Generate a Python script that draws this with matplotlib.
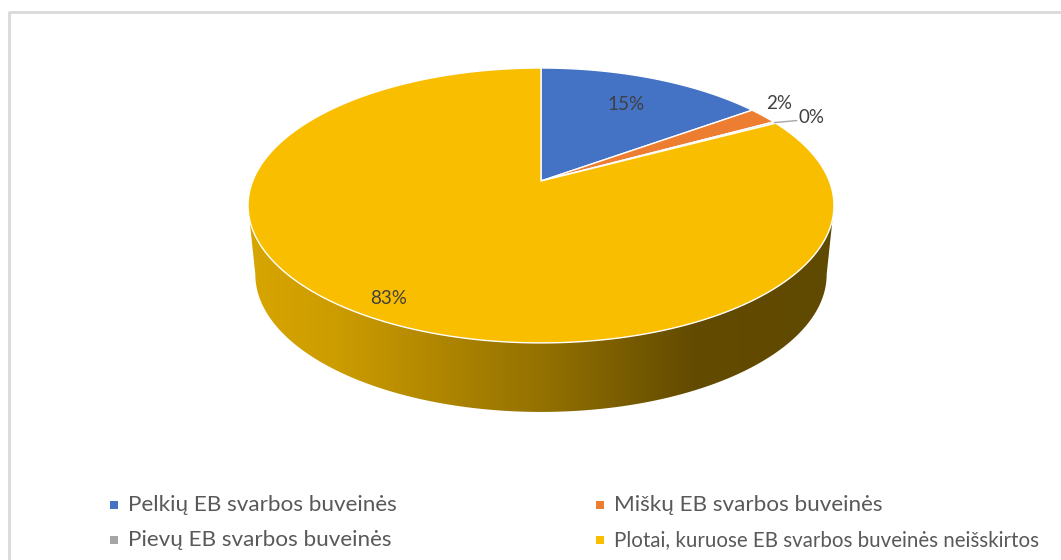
import numpy as np
import matplotlib.pyplot as plt
from matplotlib.patches import Polygon, Rectangle
from matplotlib.colors import LinearSegmentedColormap

# habitat shares, % of area
categories = ['Pelkių EB svarbos buveinės', 'Miškų EB svarbos buveinės',
              'Pievų EB svarbos buveinės',
              'Plotai, kuruose EB svarbos buveinės neišskirtos']
shares = [15.0, 2.0, 0.2, 82.8]
pct_labels = ['15%', '2%', '0%', '83%']
colors = ['#4472C4', '#ED7D31', '#A5A5A5', '#FABE00']

W, H = 1061, 560
FONT = ['Lato', 'DejaVu Sans']

# projected disc: apex, radii and perspective factor
CX, CY = 541, 181
A, B, P = 288.3, 133.1, 0.178
DEPTH = 69


def project(theta, r=1.0):
    # theta in degrees, clockwise from 12 o'clock
    th = np.radians(theta)
    u = r * np.sin(th)
    v = r * np.cos(th)
    w = 1 + P * v
    return CX + A * u / w, CY - B * v / w


fig = plt.figure(figsize=(W / 100, H / 100), dpi=100)
ax = fig.add_axes([0, 0, 1, 1])
ax.axis('off')

# chart frame
ax.plot([9, 9, W], [H, 11.5, 11.5], color='#D9D9D9', lw=2,
        solid_capstyle='butt', zorder=0)

# side wall (front half only)
t_ext = np.degrees(np.arcsin(P))
front = np.linspace(90 + t_ext, 270 - t_ext, 300)
xt, yt = project(front)
xb = CX + (xt - CX) * 0.975
yb = yt + DEPTH
wall = np.column_stack([np.r_[xt, xb[::-1]], np.r_[yt, yb[::-1]]])
wall_patch = Polygon(wall, closed=True, fc='none', ec='none')
ax.add_patch(wall_patch)
side_cmap = LinearSegmentedColormap.from_list(
    'side', [(0, '#D8A600'), (0.15, '#CC9C00'), (0.5, '#947100'),
             (0.76, '#634B00'), (1, '#604900')])
grad = np.linspace(0, 1, 256).reshape(1, -1)
im = ax.imshow(grad, cmap=side_cmap, aspect='auto', zorder=1,
               extent=[xt.min(), xt.max(), yb.max() + 2, yt.min() - 2])
im.set_clip_path(wall_patch)

# top face slices
start = 0.0
for share, col in zip(shares, colors):
    arc = np.linspace(start * 3.6, (start + share) * 3.6, 200)
    x, y = project(arc)
    pts = np.column_stack([np.r_[CX, x], np.r_[CY, y]])
    ax.add_patch(Polygon(pts, closed=True, fc=col, ec='white', lw=1,
                         joinstyle='round', zorder=2))
    start += share

# data labels
mids = np.cumsum(shares) - np.array(shares) / 2
label_r = [0.72, None, None, 0.89]
for i, (mid, txt) in enumerate(zip(mids, pct_labels)):
    theta = mid * 3.6
    if label_r[i] is not None:
        lx, ly = project(theta, label_r[i])
        ax.text(lx, ly, txt, ha='center', va='center', fontsize=13.5,
                color='#404040', family=FONT, zorder=3)
    elif shares[i] >= 1:
        rx, ry = project(theta)
        ax.text(rx + 3, ry - 4, txt, ha='left', va='bottom', fontsize=13.5,
                color='#404040', family=FONT, zorder=3)
    else:
        rx, ry = project(theta)
        ax.plot([rx, rx + 22], [ry, ry - 2], color='#A6A6A6', lw=1, zorder=3)
        ax.text(rx + 24, ry - 5, txt, ha='left', va='center', fontsize=13.5,
                color='#404040', family=FONT, zorder=3)

# legend, two columns
col_x = [110, 596]
row_y = [505, 540]
leg_size = [16.2, 16.2, 16.2, 14.8]
for i, (name, col) in enumerate(zip(categories, colors)):
    x0 = col_x[i % 2]
    y0 = row_y[i // 2]
    ax.add_patch(Rectangle((x0, y0 - 4), 8, 8, fc=col, ec='none', zorder=3))
    ax.text(x0 + 18, y0, name, ha='left', va='center', fontsize=leg_size[i],
            color='#595959', family=FONT, zorder=3)

ax.set_xlim(0, W)
ax.set_ylim(H, 0)
fig.savefig('out.png', dpi=100)
